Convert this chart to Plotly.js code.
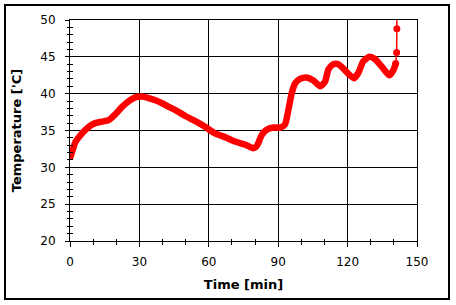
<!DOCTYPE html>
<html>
<head>
<meta charset="utf-8">
<script src="https://cdn.plot.ly/plotly-3.0.1.min.js"></script>
<style>html,body{margin:0;padding:0;background:#fff;}#chart{width:456px;height:305px;}</style>
</head>
<body>
<div id="chart"></div>
<script>
// Main temperature record
var timeMin = [0, 1, 2.3, 5.2, 8.1, 10.9, 13.8, 16.7, 19.6, 22.5, 25.4, 28.2, 31.1, 34, 36.9, 39.8, 43.4, 45.4, 49.7, 54, 58.4, 62.7, 67, 71.3, 75.6, 79.2, 80.5, 81.4, 82.9, 85, 87.9, 90.8, 92.9, 94.4, 95.8, 97.3, 99.4, 102.3, 105.2, 108.1, 110.2, 111.7, 113.8, 116, 118.2, 121, 122.8, 124.6, 126.8, 129.4, 131.8, 134.7, 138, 139.8, 140.8];
var tempC = [31.2, 32.2, 33.4, 34.6, 35.5, 36.0, 36.2, 36.4, 37.2, 38.2, 39.0, 39.5, 39.6, 39.4, 39.1, 38.7, 38.1, 37.8, 37.0, 36.3, 35.5, 34.6, 34.1, 33.5, 33.1, 32.6, 32.8, 33.3, 34.4, 35.1, 35.4, 35.4, 35.8, 37.8, 40.0, 41.4, 42.0, 42.2, 41.8, 41.0, 41.6, 43.3, 44.0, 44.0, 43.4, 42.5, 42.1, 42.8, 44.4, 45.0, 44.7, 43.7, 42.5, 43.2, 44.1];
// Final readings (sparse, with upper error)
var tailTime = [140.8, 141.2, 141.3];
var tailTemp = [44.1, 45.6, 48.8];
var tailErrUp = [0, 0, 1.7];
var xTicks = [0, 30, 60, 90, 120, 150];
var yTicks = [20, 25, 30, 35, 40, 45, 50];

var font = "DejaVu Sans, Verdana, sans-serif";
var traces = [
  {x: timeMin, y: tempC, mode: 'lines', line: {color: '#ff0000', width: 6.5, shape: 'spline', smoothing: 0.6}, showlegend: false, hoverinfo: 'none'},
  {x: tailTime, y: tailTemp, mode: 'lines+markers', cliponaxis: false,
   line: {color: '#ff0000', width: 1.5}, marker: {color: '#ff0000', size: 7},
   error_y: {type: 'data', symmetric: false, array: tailErrUp, arrayminus: [0, 0, 0], color: '#ff0000', thickness: 1.5, width: 0},
   showlegend: false, hoverinfo: 'none'},
  {x: [], y: [], xaxis: 'x2', yaxis: 'y2', showlegend: false, hoverinfo: 'none'}
];

var layout = {
  width: 456, height: 305,
  margin: {l: 70, r: 39, t: 20, b: 64, pad: 0},
  paper_bgcolor: '#ffffff', plot_bgcolor: '#ffffff',
  font: {family: font, size: 12, color: '#000'},
  xaxis: {
    range: [0, 150], tickvals: xTicks, ticktext: xTicks.map(String),
    showgrid: true, gridcolor: '#000', gridwidth: 1,
    showline: true, linecolor: '#000', linewidth: 1, mirror: true,
    ticks: 'outside', ticklen: 5, tickcolor: '#000', tickwidth: 1,
    minor: {dtick: 10, ticks: 'outside', ticklen: 3, tickcolor: '#000', showgrid: false},
    ticklabelstandoff: 5, zeroline: false,
    tickfont: {family: font, size: 12, color: '#000'},
    title: {text: 'Time [min]', font: {family: font, size: 13, color: '#000', weight: 'bold'}, standoff: 11}
  },
  yaxis: {
    range: [20, 50], tickvals: yTicks, ticktext: yTicks.map(String),
    showgrid: true, gridcolor: '#000', gridwidth: 1,
    showline: true, linecolor: '#000', linewidth: 1, mirror: true,
    ticks: 'outside', ticklen: 4, tickcolor: '#000', tickwidth: 1,
    minor: {dtick: 1, ticks: 'outside', ticklen: 2.5, tickcolor: '#000', showgrid: false},
    ticklabelstandoff: 7, zeroline: false,
    tickfont: {family: font, size: 12, color: '#000'},
    title: {text: "Temperature ['C]", font: {family: font, size: 13, color: '#000', weight: 'bold'}, standoff: 15}
  },
  xaxis2: {overlaying: 'x', anchor: 'y', side: 'bottom', range: [0, 150], tickvals: [0, 10, 20, 30, 40, 50, 60, 70, 80, 90, 100, 110, 120, 130, 140, 150],
    ticks: 'inside', ticklen: 2.5, tickcolor: '#000', showticklabels: false, showgrid: false, zeroline: false, showline: false},
  yaxis2: {overlaying: 'y', anchor: 'x', side: 'left', range: [20, 50], dtick: 1, tick0: 20,
    ticks: 'inside', ticklen: 2.5, tickcolor: '#000', showticklabels: false, showgrid: false, zeroline: false, showline: false},
  shapes: [
    {type: 'rect', xref: 'paper', yref: 'paper', x0: -0.1873, x1: 1.0922, y0: -0.2624, y1: 1.0679,
     line: {color: '#000', width: 2}, fillcolor: 'rgba(0,0,0,0)', layer: 'below'}
  ]
};

Plotly.newPlot('chart', traces, layout, {staticPlot: true, displayModeBar: false});
</script>
</body>
</html>
